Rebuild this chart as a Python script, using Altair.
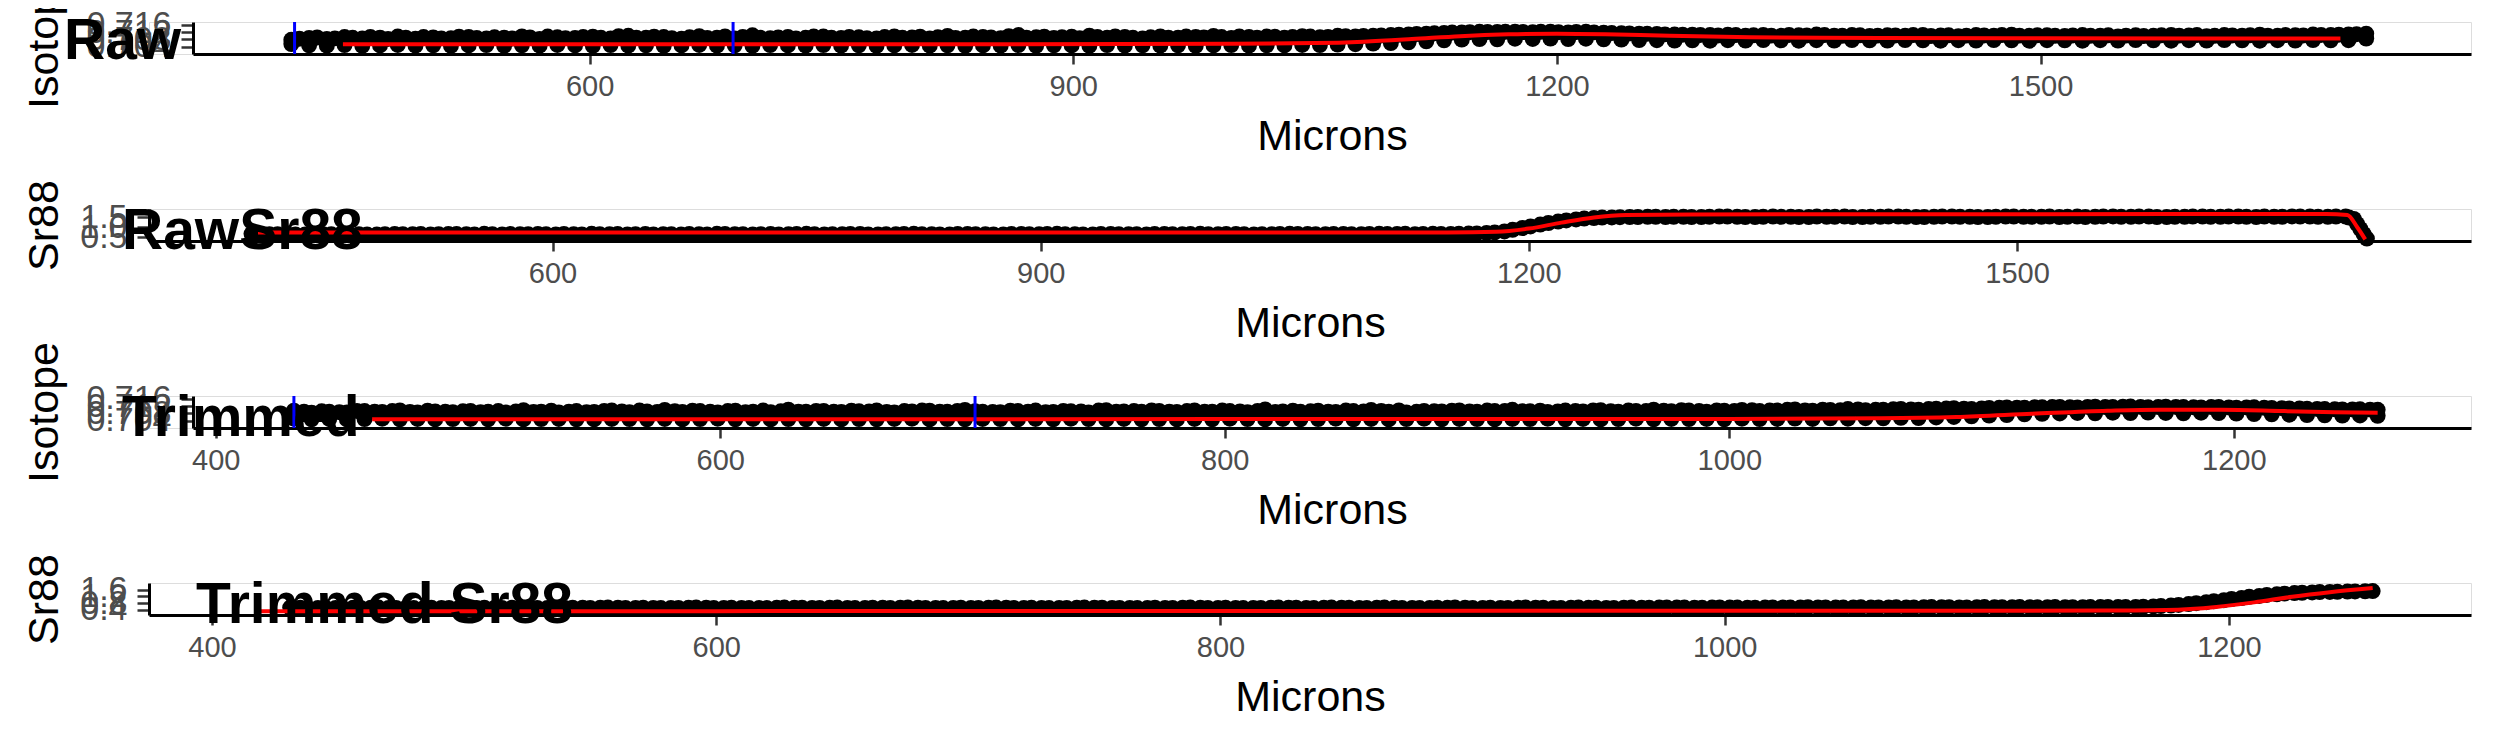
import altair as alt
import pandas as pd

# ---------------- raw data ----------------
raw_microns = [
    415, 426, 437, 448, 459, 470, 481, 492, 503, 514,
    525, 536, 547, 558, 569, 580, 591, 602, 613, 624,
    635, 646, 657, 668, 679, 690, 701, 712, 723, 734,
    745, 756, 767, 778, 789, 800, 811, 822, 833, 844,
    855, 866, 877, 888, 899, 910, 921, 932, 943, 954,
    965, 976, 987, 998, 1009, 1020, 1031, 1042, 1053, 1064,
    1075, 1086, 1097, 1108, 1119, 1130, 1141, 1152, 1163, 1174,
    1185, 1196, 1207, 1218, 1229, 1240, 1251, 1262, 1273, 1284,
    1295, 1306, 1317, 1328, 1339, 1350, 1361, 1372, 1383, 1394,
    1405, 1416, 1427, 1438, 1449, 1460, 1471, 1482, 1493, 1504,
    1515, 1526, 1537, 1548, 1559, 1570, 1581, 1592, 1603, 1614,
    1625, 1636, 1647, 1658, 1669, 1680, 1691, 1702,
    1707, 1711, 1715,
]
raw_microns_b = [
    420, 431, 442, 453, 464, 475, 486, 497, 508, 519,
    530, 541, 552, 563, 574, 585, 596, 607, 618, 629,
    640, 651, 662, 673, 684, 695, 706, 717, 728, 739,
    750, 761, 772, 783, 794, 805, 816, 827, 838, 849,
    860, 871, 882, 893, 904, 915, 926, 937, 948, 959,
    970, 981, 992, 1003, 1014, 1025, 1036, 1047, 1058, 1069,
    1080, 1091, 1102, 1113, 1124, 1135, 1146, 1157, 1168, 1179,
    1190, 1201, 1212, 1223, 1234, 1245, 1256, 1267, 1278, 1289,
    1300, 1311, 1322, 1333, 1344, 1355, 1366, 1377, 1388, 1399,
    1410, 1421, 1432, 1443, 1454, 1465, 1476, 1487, 1498, 1509,
    1520, 1531, 1542, 1553, 1564, 1575, 1586, 1597, 1608, 1619,
    1630, 1641, 1652, 1663, 1674, 1685, 1696,
    1704, 1709, 1713,
]
# Raw isotope: upper and lower edge of the point cloud (ends at 1702 microns)
raw_isotope_hi = [
    0.7078, 0.7088, 0.7082, 0.7093, 0.7085, 0.7090, 0.7096, 0.7084, 0.7091, 0.7087,
    0.7094, 0.7086, 0.7090, 0.7097, 0.7083, 0.7092, 0.7088, 0.7095, 0.7086, 0.7100,
    0.7089, 0.7093, 0.7084, 0.7098, 0.7090, 0.7086, 0.7103, 0.7087, 0.7094, 0.7089,
    0.7096, 0.7088, 0.7092, 0.7086, 0.7097, 0.7091, 0.7085, 0.7099, 0.7090, 0.7093,
    0.7087, 0.7104, 0.7092, 0.7088, 0.7095, 0.7101, 0.7089, 0.7093, 0.7086, 0.7097,
    0.7090, 0.7094, 0.7099, 0.7088, 0.7093, 0.7096, 0.7090, 0.7098, 0.7092, 0.7100,
    0.7097, 0.7100, 0.7104, 0.7108, 0.7112, 0.7116, 0.7119, 0.7122, 0.7121, 0.7123,
    0.7120, 0.7123, 0.7119, 0.7122, 0.7117, 0.7114, 0.7112, 0.7110, 0.7107, 0.7106,
    0.7104, 0.7106, 0.7101, 0.7105, 0.7100, 0.7103, 0.7107, 0.7101, 0.7104, 0.7099,
    0.7103, 0.7100, 0.7105, 0.7102, 0.7098, 0.7104, 0.7101, 0.7106, 0.7100, 0.7103,
    0.7099, 0.7104, 0.7101, 0.7097, 0.7103, 0.7100, 0.7105, 0.7102, 0.7098, 0.7104,
    0.7101, 0.7106, 0.7100, 0.7103, 0.7107, 0.7104, 0.7108, 0.7112,
]
raw_isotope_hi_b = [
    0.7084, 0.7091, 0.7086, 0.7089, 0.7094, 0.7083, 0.7090, 0.7093, 0.7086, 0.7095,
    0.7088, 0.7092, 0.7085, 0.7091, 0.7096, 0.7087, 0.7093, 0.7089, 0.7098, 0.7090,
    0.7095, 0.7087, 0.7092, 0.7088, 0.7097, 0.7094, 0.7089, 0.7091, 0.7086, 0.7096,
    0.7090, 0.7094, 0.7087, 0.7093, 0.7089, 0.7095, 0.7092, 0.7088, 0.7096, 0.7091,
    0.7098, 0.7090, 0.7095, 0.7092, 0.7087, 0.7094, 0.7097, 0.7089, 0.7092, 0.7090,
    0.7096, 0.7091, 0.7093, 0.7097, 0.7090, 0.7095, 0.7093, 0.7096, 0.7094, 0.7098,
    0.7099, 0.7102, 0.7106, 0.7110, 0.7114, 0.7118, 0.7120, 0.7121, 0.7122, 0.7121,
    0.7122, 0.7120, 0.7121, 0.7119, 0.7115, 0.7113, 0.7111, 0.7108, 0.7106, 0.7105,
    0.7102, 0.7104, 0.7103, 0.7101, 0.7105, 0.7102, 0.7104, 0.7100, 0.7103, 0.7101,
    0.7102, 0.7104, 0.7099, 0.7103, 0.7101, 0.7102, 0.7104, 0.7101, 0.7103, 0.7100,
    0.7102, 0.7100, 0.7103, 0.7101, 0.7099, 0.7103, 0.7101, 0.7104, 0.7100, 0.7102,
    0.7103, 0.7101, 0.7104, 0.7102, 0.7105, 0.7106, 0.7109,
]
raw_isotope_lo = [
    0.7055, 0.7048, 0.7046, 0.7049, 0.7045, 0.7047, 0.7050, 0.7046, 0.7048, 0.7045,
    0.7047, 0.7049, 0.7045, 0.7048, 0.7046, 0.7050, 0.7047, 0.7045, 0.7049, 0.7046,
    0.7048, 0.7045, 0.7047, 0.7050, 0.7046, 0.7048, 0.7045, 0.7049, 0.7047, 0.7046,
    0.7049, 0.7046, 0.7048, 0.7045, 0.7047, 0.7050, 0.7046, 0.7048, 0.7045, 0.7047,
    0.7046, 0.7049, 0.7045, 0.7048, 0.7047, 0.7045, 0.7049, 0.7046, 0.7048, 0.7046,
    0.7048, 0.7045, 0.7047, 0.7049, 0.7046, 0.7048, 0.7047, 0.7050, 0.7049, 0.7052,
    0.7054, 0.7057, 0.7060, 0.7064, 0.7070, 0.7075, 0.7079, 0.7082, 0.7081, 0.7084,
    0.7083, 0.7085, 0.7082, 0.7084, 0.7081, 0.7079, 0.7077, 0.7076, 0.7074, 0.7075,
    0.7073, 0.7076, 0.7074, 0.7077, 0.7075, 0.7073, 0.7076, 0.7074, 0.7077, 0.7075,
    0.7074, 0.7077, 0.7075, 0.7073, 0.7076, 0.7074, 0.7077, 0.7075, 0.7073, 0.7076,
    0.7075, 0.7073, 0.7076, 0.7074, 0.7077, 0.7075, 0.7073, 0.7076, 0.7074, 0.7077,
    0.7075, 0.7073, 0.7076, 0.7074, 0.7077, 0.7075, 0.7076, 0.7085,
]
raw_sr88 = [
    0.66, 0.64, 0.65, 0.63, 0.64, 0.66, 0.64, 0.62, 0.65, 0.64,
    0.63, 0.65, 0.64, 0.66, 0.63, 0.64, 0.65, 0.63, 0.64, 0.66,
    0.64, 0.63, 0.65, 0.64, 0.62, 0.64, 0.66, 0.64, 0.63, 0.65,
    0.64, 0.66, 0.63, 0.64, 0.65, 0.63, 0.64, 0.66, 0.64, 0.63,
    0.65, 0.64, 0.63, 0.65, 0.64, 0.66, 0.64, 0.63, 0.65, 0.64,
    0.63, 0.65, 0.64, 0.66, 0.64, 0.65, 0.63, 0.64, 0.66, 0.65,
    0.64, 0.65, 0.64, 0.66, 0.65, 0.64, 0.66, 0.65, 0.67, 0.70,
    0.78, 0.95, 1.12, 1.27, 1.38, 1.45, 1.48, 1.50, 1.51, 1.50,
    1.51, 1.50, 1.52, 1.51, 1.50, 1.52, 1.51, 1.50, 1.51, 1.52,
    1.50, 1.51, 1.52, 1.50, 1.51, 1.52, 1.51, 1.50, 1.52, 1.51,
    1.51, 1.50, 1.52, 1.51, 1.53, 1.51, 1.52, 1.50, 1.51, 1.52,
    1.51, 1.52, 1.50, 1.51, 1.53, 1.52, 1.51, 1.52,
    1.40, 0.90, 0.42,
]
raw_sr88_b = [
    0.65, 0.64, 0.63, 0.65, 0.64, 0.65, 0.63, 0.64, 0.64, 0.65,
    0.64, 0.65, 0.63, 0.64, 0.65, 0.64, 0.64, 0.65, 0.63, 0.64,
    0.65, 0.64, 0.63, 0.64, 0.65, 0.63, 0.65, 0.64, 0.64, 0.63,
    0.65, 0.64, 0.64, 0.65, 0.63, 0.64, 0.65, 0.64, 0.63, 0.65,
    0.64, 0.63, 0.65, 0.64, 0.65, 0.64, 0.63, 0.65, 0.64, 0.64,
    0.65, 0.64, 0.65, 0.64, 0.65, 0.64, 0.64, 0.65, 0.65, 0.64,
    0.65, 0.64, 0.65, 0.65, 0.66, 0.65, 0.65, 0.66, 0.68, 0.73,
    0.86, 1.03, 1.20, 1.33, 1.42, 1.47, 1.49, 1.50, 1.51, 1.51,
    1.50, 1.51, 1.52, 1.50, 1.51, 1.51, 1.50, 1.52, 1.51, 1.50,
    1.51, 1.52, 1.51, 1.50, 1.52, 1.51, 1.50, 1.51, 1.52, 1.51,
    1.52, 1.51, 1.50, 1.52, 1.51, 1.52, 1.50, 1.51, 1.52, 1.51,
    1.52, 1.51, 1.52, 1.51, 1.52, 1.51, 1.52,
    1.47, 1.15, 0.65,
]
raw_iso_smooth_microns = [447, 550, 700, 850, 1000, 1050, 1080, 1110, 1140, 1170,
                          1200, 1230, 1270, 1320, 1400, 1500, 1600, 1686]
raw_iso_smooth = [0.7053, 0.7053, 0.7054, 0.7054, 0.7056, 0.7060, 0.7068, 0.7082, 0.7098, 0.7108,
                  0.7112, 0.7109, 0.7100, 0.7092, 0.7088, 0.7086, 0.7085, 0.7085]
raw_sr88_smooth_microns = [419, 600, 800, 1000, 1150, 1180, 1200, 1220, 1240, 1260,
                           1300, 1500, 1690, 1703, 1709, 1714]
raw_sr88_smooth = [0.72, 0.72, 0.72, 0.72, 0.73, 0.76, 0.92, 1.22, 1.48, 1.60,
                   1.63, 1.64, 1.65, 1.60, 1.00, 0.38]
raw_blue_microns = [417, 689]

# ---------------- trimmed data ----------------
trim_microns = [
    431, 438, 445, 452, 459, 466, 473, 480, 487, 494,
    501, 508, 515, 522, 529, 536, 543, 550, 557, 564,
    571, 578, 585, 592, 599, 606, 613, 620, 627, 634,
    641, 648, 655, 662, 669, 676, 683, 690, 697, 704,
    711, 718, 725, 732, 739, 746, 753, 760, 767, 774,
    781, 788, 795, 802, 809, 816, 823, 830, 837, 844,
    851, 858, 865, 872, 879, 886, 893, 900, 907, 914,
    921, 928, 935, 942, 949, 956, 963, 970, 977, 984,
    991, 998, 1005, 1012, 1019, 1026, 1033, 1040, 1047, 1054,
    1061, 1068, 1075, 1082, 1089, 1096, 1103, 1110, 1117, 1124,
    1131, 1138, 1145, 1152, 1159, 1166, 1173, 1180, 1187, 1194,
    1201, 1208, 1215, 1222, 1229, 1236, 1243, 1250, 1257,
]
trim_microns_b = [
    435, 442, 449, 456, 463, 470, 477, 484, 491, 498,
    505, 512, 519, 526, 533, 540, 547, 554, 561, 568,
    575, 582, 589, 596, 603, 610, 617, 624, 631, 638,
    645, 652, 659, 666, 673, 680, 687, 694, 701, 708,
    715, 722, 729, 736, 743, 750, 757, 764, 771, 778,
    785, 792, 799, 806, 813, 820, 827, 834, 841, 848,
    855, 862, 869, 876, 883, 890, 897, 904, 911, 918,
    925, 932, 939, 946, 953, 960, 967, 974, 981, 988,
    995, 1002, 1009, 1016, 1023, 1030, 1037, 1044, 1051, 1058,
    1065, 1072, 1079, 1086, 1093, 1100, 1107, 1114, 1121, 1128,
    1135, 1142, 1149, 1156, 1163, 1170, 1177, 1184, 1191, 1198,
    1205, 1212, 1219, 1226, 1233, 1240, 1247, 1254,
]
trim_isotope_hi = [
    0.7095, 0.7084, 0.7090, 0.7086, 0.7093, 0.7088, 0.7097, 0.7085, 0.7091, 0.7087,
    0.7094, 0.7089, 0.7085, 0.7098, 0.7090, 0.7086, 0.7093, 0.7088, 0.7096, 0.7087,
    0.7091, 0.7099, 0.7088, 0.7093, 0.7086, 0.7095, 0.7090, 0.7087, 0.7101, 0.7089,
    0.7094, 0.7088, 0.7092, 0.7097, 0.7086, 0.7091, 0.7095, 0.7089, 0.7099, 0.7090,
    0.7087, 0.7093, 0.7096, 0.7088, 0.7092, 0.7086, 0.7098, 0.7091, 0.7089, 0.7094,
    0.7088, 0.7097, 0.7090, 0.7093, 0.7087, 0.7102, 0.7091, 0.7089, 0.7095, 0.7088,
    0.7093, 0.7099, 0.7090, 0.7086, 0.7094, 0.7091, 0.7097, 0.7089, 0.7093, 0.7100,
    0.7092, 0.7088, 0.7096, 0.7091, 0.7098, 0.7090, 0.7094, 0.7101, 0.7092, 0.7096,
    0.7090, 0.7095, 0.7099, 0.7093, 0.7097, 0.7102, 0.7095, 0.7099, 0.7104, 0.7098,
    0.7101, 0.7105, 0.7100, 0.7106, 0.7109, 0.7104, 0.7110, 0.7113, 0.7111, 0.7114,
    0.7116, 0.7113, 0.7117, 0.7115, 0.7118, 0.7114, 0.7117, 0.7115, 0.7113, 0.7116,
    0.7112, 0.7114, 0.7110, 0.7108, 0.7106, 0.7104, 0.7102, 0.7103, 0.7100,
]
trim_isotope_hi_b = [
    0.7089, 0.7092, 0.7087, 0.7094, 0.7090, 0.7093, 0.7088, 0.7095, 0.7089, 0.7092,
    0.7087, 0.7093, 0.7091, 0.7088, 0.7095, 0.7090, 0.7087, 0.7094, 0.7091, 0.7096,
    0.7088, 0.7092, 0.7095, 0.7089, 0.7093, 0.7087, 0.7096, 0.7092, 0.7090, 0.7094,
    0.7089, 0.7095, 0.7091, 0.7088, 0.7093, 0.7096, 0.7090, 0.7094, 0.7092, 0.7088,
    0.7095, 0.7090, 0.7087, 0.7094, 0.7091, 0.7096, 0.7089, 0.7093, 0.7097, 0.7090,
    0.7093, 0.7089, 0.7096, 0.7091, 0.7094, 0.7088, 0.7095, 0.7092, 0.7090, 0.7096,
    0.7091, 0.7094, 0.7097, 0.7089, 0.7092, 0.7095, 0.7091, 0.7096, 0.7094, 0.7092,
    0.7095, 0.7091, 0.7093, 0.7097, 0.7092, 0.7096, 0.7093, 0.7095, 0.7098, 0.7093,
    0.7097, 0.7094, 0.7098, 0.7096, 0.7100, 0.7097, 0.7101, 0.7098, 0.7102, 0.7100,
    0.7103, 0.7102, 0.7104, 0.7107, 0.7106, 0.7108, 0.7111, 0.7112, 0.7114, 0.7115,
    0.7114, 0.7116, 0.7115, 0.7117, 0.7116, 0.7115, 0.7116, 0.7114, 0.7115, 0.7113,
    0.7113, 0.7111, 0.7109, 0.7107, 0.7105, 0.7103, 0.7102, 0.7101,
]
trim_isotope_lo = [
    0.7052, 0.7048, 0.7050, 0.7047, 0.7049, 0.7051, 0.7048, 0.7050, 0.7047, 0.7049,
    0.7050, 0.7048, 0.7051, 0.7047, 0.7049, 0.7050, 0.7048, 0.7047, 0.7050, 0.7049,
    0.7048, 0.7050, 0.7047, 0.7049, 0.7051, 0.7048, 0.7050, 0.7047, 0.7049, 0.7048,
    0.7050, 0.7047, 0.7049, 0.7048, 0.7050, 0.7051, 0.7047, 0.7049, 0.7048, 0.7050,
    0.7049, 0.7047, 0.7050, 0.7048, 0.7051, 0.7049, 0.7047, 0.7050, 0.7048, 0.7049,
    0.7047, 0.7050, 0.7048, 0.7051, 0.7049, 0.7047, 0.7050, 0.7048, 0.7049, 0.7051,
    0.7048, 0.7050, 0.7047, 0.7049, 0.7051, 0.7048, 0.7050, 0.7049, 0.7047, 0.7050,
    0.7049, 0.7051, 0.7048, 0.7050, 0.7047, 0.7049, 0.7051, 0.7048, 0.7050, 0.7049,
    0.7050, 0.7048, 0.7051, 0.7049, 0.7050, 0.7052, 0.7050, 0.7053, 0.7051, 0.7054,
    0.7053, 0.7056, 0.7055, 0.7058, 0.7061, 0.7064, 0.7068, 0.7071, 0.7075, 0.7078,
    0.7080, 0.7083, 0.7081, 0.7084, 0.7082, 0.7085, 0.7083, 0.7081, 0.7084, 0.7082,
    0.7079, 0.7077, 0.7075, 0.7073, 0.7071, 0.7070, 0.7068, 0.7069, 0.7067,
]
trim_sr88 = [
    0.54, 0.52, 0.53, 0.51, 0.52, 0.54, 0.52, 0.51, 0.53, 0.52,
    0.51, 0.53, 0.52, 0.54, 0.52, 0.51, 0.53, 0.52, 0.54, 0.52,
    0.53, 0.51, 0.52, 0.54, 0.52, 0.53, 0.51, 0.52, 0.54, 0.53,
    0.52, 0.54, 0.51, 0.53, 0.52, 0.54, 0.52, 0.51, 0.53, 0.52,
    0.54, 0.52, 0.53, 0.51, 0.52, 0.54, 0.53, 0.52, 0.51, 0.53,
    0.52, 0.54, 0.52, 0.53, 0.51, 0.52, 0.54, 0.53, 0.52, 0.54,
    0.53, 0.52, 0.54, 0.52, 0.51, 0.53, 0.54, 0.52, 0.53, 0.52,
    0.54, 0.53, 0.52, 0.54, 0.53, 0.52, 0.54, 0.53, 0.55, 0.54,
    0.53, 0.55, 0.54, 0.53, 0.55, 0.54, 0.56, 0.55, 0.54, 0.56,
    0.55, 0.56, 0.55, 0.57, 0.56, 0.55, 0.57, 0.56, 0.57, 0.56,
    0.57, 0.56, 0.57, 0.58, 0.57, 0.59, 0.63, 0.70, 0.80, 0.92,
    1.05, 1.18, 1.29, 1.37, 1.42, 1.46, 1.48, 1.50, 1.52,
]
trim_sr88_b = [
    0.53, 0.52, 0.52, 0.53, 0.53, 0.52, 0.53, 0.52, 0.52, 0.53,
    0.52, 0.52, 0.53, 0.53, 0.52, 0.52, 0.53, 0.53, 0.53, 0.52,
    0.52, 0.52, 0.53, 0.53, 0.52, 0.52, 0.52, 0.53, 0.53, 0.52,
    0.53, 0.52, 0.52, 0.53, 0.53, 0.53, 0.52, 0.52, 0.52, 0.53,
    0.53, 0.52, 0.52, 0.52, 0.53, 0.53, 0.52, 0.52, 0.52, 0.52,
    0.53, 0.53, 0.52, 0.52, 0.52, 0.53, 0.53, 0.52, 0.53, 0.53,
    0.52, 0.53, 0.53, 0.52, 0.52, 0.53, 0.53, 0.52, 0.52, 0.53,
    0.53, 0.52, 0.53, 0.53, 0.52, 0.53, 0.53, 0.54, 0.54, 0.53,
    0.54, 0.54, 0.53, 0.54, 0.54, 0.55, 0.55, 0.54, 0.55, 0.55,
    0.55, 0.55, 0.56, 0.56, 0.55, 0.56, 0.56, 0.56, 0.56, 0.56,
    0.56, 0.56, 0.57, 0.57, 0.58, 0.61, 0.66, 0.75, 0.86, 0.98,
    1.11, 1.23, 1.33, 1.40, 1.44, 1.47, 1.49, 1.51,
]
trim_iso_smooth_microns = [462, 600, 800, 1000, 1060, 1090, 1120, 1150, 1170, 1195, 1220, 1240, 1257]
trim_iso_smooth = [0.7048, 0.7048, 0.7049, 0.7050, 0.7053, 0.7060, 0.7078, 0.7095, 0.7101, 0.7101,
                   0.7093, 0.7087, 0.7084]
trim_sr88_smooth_microns = [419, 600, 800, 1000, 1150, 1175, 1195, 1210, 1225, 1240, 1257]
trim_sr88_smooth = [0.33, 0.33, 0.34, 0.35, 0.36, 0.40, 0.58, 0.85, 1.18, 1.45, 1.70]
trim_blue_microns = [431, 701]

# ---------------- axis ticks ----------------
iso_ticks = [0.704, 0.708, 0.712, 0.716]
raw_sr_ticks = [0.5, 1.0, 1.5]
trim_sr_ticks = [0.4, 0.8, 1.2, 1.6]
raw_x_ticks = [600, 900, 1200, 1500]
trim_x_ticks = [400, 600, 800, 1000, 1200]

FONT = "Liberation Sans"
PW = 2322
PH = 32


def points_frame(*pairs):
    frames = [pd.DataFrame({"microns": xs[:len(vals)], "value": vals}) for xs, vals in pairs]
    return pd.concat(frames, ignore_index=True)


def panel(pts, smooth, blue, xdom, xoff, xticks, ydom, yticks, yfmt, ytitle,
          title, tdx, tdy):
    xscale = alt.Scale(domain=xdom, range=[xoff, PW], nice=False, zero=False)
    yscale = alt.Scale(domain=ydom, nice=False, zero=False)
    common = dict(
        tickWidth=2.5, tickColor="#333333",
        domainColor="black", domainWidth=3, grid=False,
        labelFont=FONT, labelColor="#4D4D4D",
        titleFont=FONT, titleFontSize=43, titleColor="black",
        titleFontWeight="normal", labelOverlap=False,
    )
    xaxis = alt.Axis(title="Microns", values=xticks, format="d", tickSize=10,
                     labelFontSize=29, labelFlush=False, labelPadding=8,
                     titlePadding=14, **common)
    yaxis = alt.Axis(title=ytitle, values=yticks, format=yfmt, tickSize=12,
                     labelFontSize=34, labelPadding=10, offset=-xoff,
                     titleX=56 - 148 - xoff, titleBaseline="alphabetic", **common)
    x = alt.X("microns:Q", scale=xscale, axis=xaxis)
    y = alt.Y("value:Q", scale=yscale, axis=yaxis)
    layers = [
        alt.Chart(pts).mark_circle(size=255, color="black", opacity=1).encode(x=x, y=y),
        alt.Chart(smooth).mark_line(color="#FF0000", strokeWidth=4,
                                    interpolate="monotone").encode(x=x, y=y),
    ]
    if blue:
        layers.append(
            alt.Chart(pd.DataFrame({"microns": blue}))
            .mark_rule(color="#0000FF", strokeWidth=3)
            .encode(x=x)
        )
    return alt.layer(*layers).properties(
        width=PW, height=PH,
        title=alt.TitleParams(
            title, anchor="start", frame="group", orient="bottom",
            baseline="alphabetic", offset=0, dx=tdx, dy=tdy,
            fontSize=57, fontWeight="bold", color="black", font=FONT,
        ),
    )


p1 = panel(points_frame((raw_microns, raw_isotope_hi), (raw_microns_b, raw_isotope_hi_b),
                        (raw_microns, raw_isotope_lo)),
           pd.DataFrame({"microns": raw_iso_smooth_microns, "value": raw_iso_smooth}),
           raw_blue_microns, [354, 1767], 44, raw_x_ticks, [0.700, 0.7176],
           iso_ticks, ".3f", "Isotope", "Raw", -85, -99)
p2 = panel(points_frame((raw_microns, raw_sr88), (raw_microns_b, raw_sr88_b)),
           pd.DataFrame({"microns": raw_sr88_smooth_microns, "value": raw_sr88_smooth}),
           None, [352, 1779], 0, raw_x_ticks, [0.3, 1.9],
           raw_sr_ticks, ".1f", "Sr88", "RawSr88", -27, -96)
p3 = panel(points_frame((trim_microns, trim_isotope_hi), (trim_microns_b, trim_isotope_hi_b),
                        (trim_microns, trim_isotope_lo)),
           pd.DataFrame({"microns": trim_iso_smooth_microns, "value": trim_iso_smooth}),
           trim_blue_microns, [391, 1294], 44, trim_x_ticks, [0.700, 0.7176],
           iso_ticks, ".3f", "Isotope", "Trimmed", -27, -96)
p4 = panel(points_frame((trim_microns, trim_sr88), (trim_microns_b, trim_sr88_b)),
           pd.DataFrame({"microns": trim_sr88_smooth_microns, "value": trim_sr88_smooth}),
           None, [375, 1296], 0, trim_x_ticks, [0.1, 2.0],
           trim_sr_ticks, ".1f", "Sr88", "Trimmed Sr88", 47, -96)

chart = (
    alt.vconcat(p1, p2, p3, p4, spacing=155, bounds="flush")
    .properties(padding={"top": -42, "left": 14, "right": 5, "bottom": 5})
    .configure_view(stroke=None)
    .configure(background="white")
)

chart.save("out.html", embed_options={"renderer": "svg", "actions": False})
